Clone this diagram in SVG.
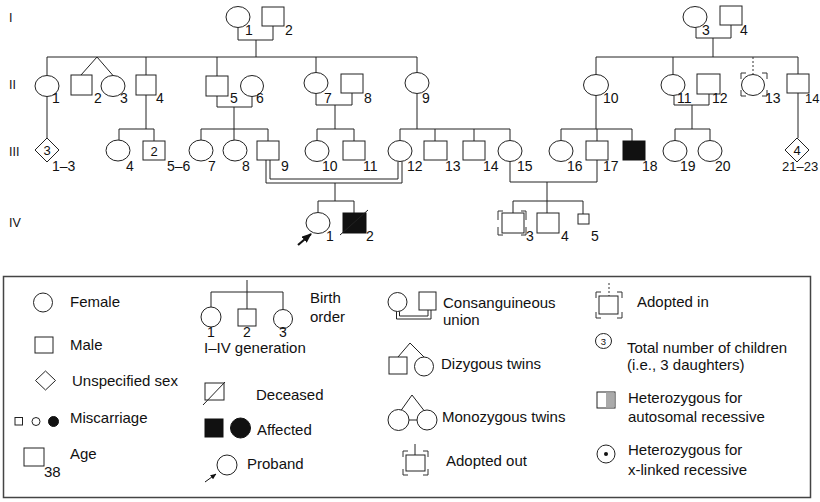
<svg xmlns="http://www.w3.org/2000/svg" width="820" height="502" viewBox="0 0 820 502">
  <defs>
    <style>
      .l { fill: none; stroke: #222; stroke-width: 1; }
      .s { fill: #fff; stroke: #222; stroke-width: 1; }
      .f { fill: #111; stroke: #111; stroke-width: 1; }
      .br { fill: none; stroke: #333; stroke-width: 1; }
      .dot { fill: none; stroke: #333; stroke-width: 1; stroke-dasharray: 2 2; }
      text { font-family: "Liberation Sans", Arial, sans-serif; fill: #111; }
      .n { font-size: 14px; }
      .g { font-size: 12.5px; }
      .c { font-size: 13px; text-anchor: middle; }
      .lg { font-size: 15px; }
    </style>
    <marker id="arrowBig" viewBox="0 0 10 8" refX="9" refY="4" markerWidth="10" markerHeight="8" markerUnits="userSpaceOnUse" orient="auto">
      <path d="M0,0 L10,4 L0,8 z" fill="#111"/>
    </marker>
    <marker id="arrowSmall" viewBox="0 0 6 5" refX="5.5" refY="2.5" markerWidth="6" markerHeight="5" markerUnits="userSpaceOnUse" orient="auto">
      <path d="M0,0 L6,2.5 L0,5 z" fill="#111"/>
    </marker>
  </defs>

  <!-- generation labels -->
  <g id="generations">
    <text class="g" x="9" y="22">I</text>
    <text class="g" x="9" y="89">II</text>
    <text class="g" x="9" y="156">III</text>
    <text class="g" x="9" y="227">IV</text>
  </g>

  <!-- connectors -->
  <g id="connectors">
    <!-- generation I couples -->
    <path class="l" d="M238 27.5 V40 H273 V26 M256 40 V57"/>
    <path class="l" d="M696 27.5 V38 H731 V25 M713 38 V57"/>
    <!-- sibship lines, generation II -->
    <path class="l" d="M47 57 H417 M47 57 V75 M97 57 L81 75 M97 57 L113 75.5 M146 57 V75 M217 57 V76 M316 57 V72.5 M417 57 V72.5"/>
    <path class="l" d="M596 57 H798 M596 57 V74.5 M673 57 V74.5 M798 57 V74"/>
    <path class="dot" d="M753 57 V74"/>
    <!-- generation II descent lines -->
    <path class="l" d="M47 96.5 V138"/>
    <path class="l" d="M146 95 V129 M119 129 H154 M119 129 V140 M154 129 V141"/>
    <path class="l" d="M217 96 V107 H252 V96.5 M234 107 V129 M201 129 H268 M201 129 V140 M234 129 V140 M268 129 V141"/>
    <path class="l" d="M316 93.5 V105 H352 V93 M335 105 V129 M317 129 H354 M317 129 V140.5 M354 129 V141"/>
    <path class="l" d="M417 93.5 V129 M400 129 H510 M400 129 V140.5 M435 129 V141 M474 129 V141 M510 129 V140.5"/>
    <path class="l" d="M596 95.5 V129 M561 129 H632 M561 129 V140.5 M597 129 V141 M632 129 V141"/>
    <path class="l" d="M674 95.5 V105 H709 V94 M692 105 V129 M675 129 H710 M675 129 V140.5 M710 129 V140.5"/>
    <path class="l" d="M798 93 V138"/>
    <!-- consanguineous union III-9 x III-12 -->
    <path class="l" d="M266 160 V183 H402 V160"/>
    <path class="l" d="M270 160 V179 H398 V161.5"/>
    <path class="l" d="M335 183 V201 M318 201 H354 M318 201 V212.5 M354 201 V213"/>
    <!-- union III-15 x III-17 -->
    <path class="l" d="M510 161.5 V182 H597 V160 M547 182 V201 M513 201 H583 M513 201 V213 M547 201 V213 M583 201 V214"/>
    <!-- proband arrow -->
    <path d="M298 245 L311 234" stroke="#111" stroke-width="2.2" fill="none" marker-end="url(#arrowBig)"/>
  </g>

  <!-- generation I -->
  <g id="I-1"><ellipse class="s" cx="238" cy="17" rx="12" ry="10.5"/><text class="n" x="245" y="35">1</text></g>
  <g id="I-2"><rect class="s" x="262" y="7" width="22" height="19"/><text class="n" x="285" y="35">2</text></g>
  <g id="I-3"><ellipse class="s" cx="695" cy="17" rx="12" ry="10.5"/><text class="n" x="702" y="35">3</text></g>
  <g id="I-4"><rect class="s" x="720" y="6" width="22" height="19"/><text class="n" x="740" y="35">4</text></g>

  <!-- generation II -->
  <g id="II-1"><ellipse class="s" cx="47" cy="86" rx="12" ry="10.5"/><text class="n" x="52" y="103">1</text></g>
  <g id="II-2"><rect class="s" x="71" y="75" width="21" height="20"/><text class="n" x="94" y="103">2</text></g>
  <g id="II-3"><ellipse class="s" cx="113" cy="86" rx="12" ry="10.5"/><text class="n" x="120" y="103">3</text></g>
  <g id="II-4"><rect class="s" x="136" y="75" width="20" height="20"/><text class="n" x="156" y="103">4</text></g>
  <g id="II-5"><rect class="s" x="206" y="76" width="22" height="20"/><text class="n" x="230" y="103">5</text></g>
  <g id="II-6"><ellipse class="s" cx="252" cy="86" rx="11.5" ry="10.5"/><text class="n" x="256" y="103">6</text></g>
  <g id="II-7"><ellipse class="s" cx="316" cy="83" rx="12" ry="10.5"/><text class="n" x="324" y="103">7</text></g>
  <g id="II-8"><rect class="s" x="341" y="74" width="22" height="19"/><text class="n" x="364" y="103">8</text></g>
  <g id="II-9"><ellipse class="s" cx="417" cy="83" rx="12" ry="10.5"/><text class="n" x="422" y="103">9</text></g>
  <g id="II-10"><ellipse class="s" cx="596" cy="85" rx="12.5" ry="10.5"/><text class="n" x="603" y="103">10</text></g>
  <g id="II-11"><ellipse class="s" cx="673" cy="85" rx="12" ry="10.5"/><text class="n" x="677" y="103">11</text></g>
  <g id="II-12"><rect class="s" x="697" y="74" width="23" height="20"/><text class="n" x="712" y="103">12</text></g>
  <g id="II-13">
    <ellipse class="s" cx="753" cy="85" rx="11.5" ry="10.5"/>
    <path class="br" d="M741 79 V73 H746 M762 73 H767 V79 M741 90 V96 H746 M762 96 H767 V90"/>
    <text class="n" x="765" y="103">13</text>
  </g>
  <g id="II-14"><rect class="s" x="787" y="74" width="22" height="19"/><text class="n" x="805" y="103" style="font-size:13px">14</text></g>

  <!-- generation III -->
  <g id="III-1-3">
    <polygon class="s" points="47,138 59,150 47,162 35,150"/>
    <text class="c" x="47" y="155">3</text>
    <text class="n" x="52" y="171">1–3</text>
  </g>
  <g id="III-4"><ellipse class="s" cx="118" cy="150.5" rx="12" ry="10.5"/><text class="n" x="126" y="171">4</text></g>
  <g id="III-5-6">
    <rect class="s" x="143" y="141" width="22" height="19"/>
    <text class="c" x="154" y="155.5">2</text>
    <text class="n" x="167" y="171">5–6</text>
  </g>
  <g id="III-7"><ellipse class="s" cx="201" cy="150.5" rx="12" ry="10.5"/><text class="n" x="208" y="171">7</text></g>
  <g id="III-8"><ellipse class="s" cx="235" cy="150.5" rx="12" ry="10.5"/><text class="n" x="242" y="171">8</text></g>
  <g id="III-9"><rect class="s" x="257" y="141" width="22" height="19"/><text class="n" x="281" y="171">9</text></g>
  <g id="III-10"><ellipse class="s" cx="317" cy="151" rx="12" ry="10.5"/><text class="n" x="322" y="171">10</text></g>
  <g id="III-11"><rect class="s" x="343" y="141" width="22" height="19"/><text class="n" x="363" y="171">11</text></g>
  <g id="III-12"><ellipse class="s" cx="400" cy="151" rx="12" ry="10.5"/><text class="n" x="407" y="171">12</text></g>
  <g id="III-13"><rect class="s" x="424" y="141" width="23" height="19"/><text class="n" x="445" y="171">13</text></g>
  <g id="III-14"><rect class="s" x="463" y="141" width="22" height="19"/><text class="n" x="483" y="171">14</text></g>
  <g id="III-15"><ellipse class="s" cx="510" cy="151" rx="12" ry="10.5"/><text class="n" x="517" y="171">15</text></g>
  <g id="III-16"><ellipse class="s" cx="561" cy="151" rx="12" ry="10.5"/><text class="n" x="567" y="171">16</text></g>
  <g id="III-17"><rect class="s" x="586" y="141" width="22" height="19"/><text class="n" x="603" y="171">17</text></g>
  <g id="III-18"><rect class="f" x="623" y="141" width="22" height="19"/><text class="n" x="642" y="171">18</text></g>
  <g id="III-19"><ellipse class="s" cx="675" cy="151" rx="12" ry="10.5"/><text class="n" x="680" y="171">19</text></g>
  <g id="III-20"><ellipse class="s" cx="710" cy="151" rx="12" ry="10.5"/><text class="n" x="715" y="171">20</text></g>
  <g id="III-21-23">
    <polygon class="s" points="797,138 809,150 797,162 785,150"/>
    <text class="c" x="797" y="155">4</text>
    <text class="n" x="782" y="171" style="font-size:13px">21–23</text>
  </g>

  <!-- generation IV -->
  <g id="IV-1"><ellipse class="s" cx="318" cy="223" rx="12" ry="10.5"/><text class="n" x="326" y="241">1</text></g>
  <g id="IV-2">
    <rect class="f" x="343" y="213" width="23" height="20"/>
    <path class="l" d="M340 235 L368 210"/>
    <text class="n" x="366" y="241">2</text>
  </g>
  <g id="IV-3">
    <rect class="s" x="502" y="213" width="22" height="20"/>
    <path class="br" d="M498 220 V211 H503 M521 211 H526 V220 M498 227 V235 H503 M521 235 H526 V227"/>
    <text class="n" x="526" y="241">3</text>
  </g>
  <g id="IV-4"><rect class="s" x="537" y="213" width="22" height="20"/><text class="n" x="561" y="241">4</text></g>
  <g id="IV-5"><rect class="s" x="578" y="214" width="11" height="10"/><text class="n" x="591" y="241">5</text></g>

  <!-- key -->
  <g id="legend">
    <rect x="3.5" y="276.5" width="807" height="221" fill="none" stroke="#444" stroke-width="1.5"/>

    <g id="key-female"><circle class="s" cx="43" cy="302.5" r="9.5"/><text class="lg" x="70" y="307">Female</text></g>
    <g id="key-male"><rect class="s" x="35" y="337" width="18" height="16"/><text class="lg" x="70" y="350">Male</text></g>
    <g id="key-unspecified"><polygon class="s" points="45.5,371 55.5,380.5 45.5,390 35.5,380.5"/><text class="lg" x="72" y="386">Unspecified sex</text></g>
    <g id="key-miscarriage">
      <rect class="s" x="15" y="417.5" width="7.5" height="7.5"/>
      <circle class="s" cx="36" cy="421.5" r="4"/>
      <circle class="f" cx="53.5" cy="421.5" r="5"/>
      <text class="lg" x="70" y="423">Miscarriage</text>
    </g>
    <g id="key-age">
      <rect class="s" x="24" y="448" width="20" height="18"/>
      <text class="lg" x="44" y="477">38</text>
      <text class="lg" x="70" y="459">Age</text>
    </g>

    <g id="key-birth-order">
      <path class="l" d="M247 280 V292 M211 292 H283 M211 292 V307 M247 292 V309 M283 292 V309.5"/>
      <circle class="s" cx="211" cy="317" r="10"/>
      <rect class="s" x="238" y="309" width="18" height="17"/>
      <circle class="s" cx="283" cy="319" r="9.5"/>
      <text class="c" x="211" y="337" style="font-size:14px">1</text>
      <text class="c" x="247" y="337" style="font-size:14px">2</text>
      <text class="c" x="283" y="337" style="font-size:14px">3</text>
      <text class="lg" x="204" y="353">I–IV generation</text>
      <text class="lg" x="310" y="303">Birth</text>
      <text class="lg" x="310" y="322">order</text>
    </g>
    <g id="key-deceased">
      <rect class="s" x="205" y="383" width="19" height="17"/>
      <path class="l" d="M203 405 L225 382"/>
      <text class="lg" x="256" y="400">Deceased</text>
    </g>
    <g id="key-affected">
      <rect class="f" x="205" y="419" width="18" height="18"/>
      <circle class="f" cx="240.5" cy="428" r="10"/>
      <text class="lg" x="257" y="435">Affected</text>
    </g>
    <g id="key-proband">
      <circle class="s" cx="227" cy="465" r="10"/>
      <path d="M205 482 L216 474" stroke="#111" stroke-width="1" fill="none" marker-end="url(#arrowSmall)"/>
      <text class="lg" x="247" y="469">Proband</text>
    </g>

    <g id="key-consanguineous">
      <circle class="s" cx="397.5" cy="302" r="9.5"/>
      <rect class="s" x="419" y="292" width="17" height="18"/>
      <path class="l" d="M396.5 311.5 V319 H431 V310"/>
      <path class="l" d="M399.5 311.5 V316 H428 V310"/>
      <text class="lg" x="443" y="308">Consanguineous</text>
      <text class="lg" x="443" y="325">union</text>
    </g>
    <g id="key-dizygous">
      <path class="l" d="M398 357 L410 343 L424 357"/>
      <rect class="s" x="389" y="357" width="18" height="17"/>
      <circle class="s" cx="424" cy="366.5" r="9.5"/>
      <text class="lg" x="441" y="369">Dizygous twins</text>
    </g>
    <g id="key-monozygous">
      <path class="l" d="M401 410.5 L412 395 L424 410.5 M409 420 H417"/>
      <circle class="s" cx="398.5" cy="420" r="10.5"/>
      <circle class="s" cx="427" cy="420" r="10"/>
      <text class="lg" x="442" y="422">Monozygous twins</text>
    </g>
    <g id="key-adopted-out">
      <path class="l" d="M415 444 V455"/>
      <rect class="s" x="406" y="455" width="19" height="16"/>
      <path class="br" d="M403 457 V451 H408 M423 451 H428 V457 M403 469 V475 H408 M423 475 H428 V469"/>
      <text class="lg" x="446" y="466">Adopted out</text>
    </g>

    <g id="key-adopted-in">
      <path class="dot" d="M609 283 V296"/>
      <rect class="s" x="599" y="296" width="19" height="18"/>
      <path class="br" d="M596 298 V292 H601 M617 292 H622 V298 M596 312 V318 H601 M617 318 H622 V312"/>
      <text class="lg" x="637" y="307">Adopted in</text>
    </g>
    <g id="key-total">
      <ellipse class="s" cx="603.5" cy="341" rx="8" ry="7.5"/>
      <text x="603.5" y="344.5" style="font-size:9.5px;text-anchor:middle">3</text>
      <text class="lg" x="627" y="353">Total number of children</text>
      <text class="lg" x="627" y="370">(i.e., 3 daughters)</text>
    </g>
    <g id="key-het-ar">
      <rect class="s" x="597" y="392" width="18" height="16"/>
      <rect x="606" y="392.5" width="8.5" height="15" fill="#aaa"/>
      <text class="lg" x="628" y="403">Heterozygous for</text>
      <text class="lg" x="628" y="422">autosomal recessive</text>
    </g>
    <g id="key-het-xl">
      <circle class="s" cx="606" cy="454" r="9"/>
      <circle cx="606" cy="454" r="2" fill="#111"/>
      <text class="lg" x="628" y="455">Heterozygous for</text>
      <text class="lg" x="628" y="475">x-linked recessive</text>
    </g>
  </g>
</svg>
